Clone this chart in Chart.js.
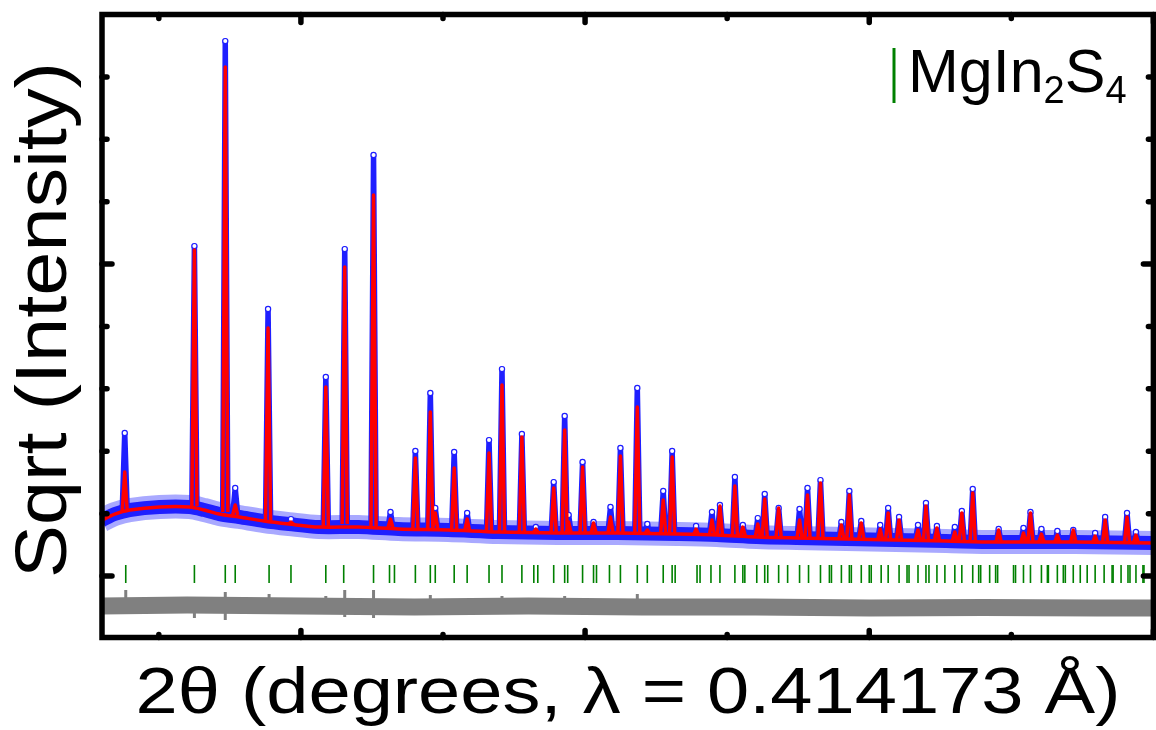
<!DOCTYPE html>
<html><head><meta charset="utf-8">
<script src="https://cdn.jsdelivr.net/npm/chart.js@4.4.0/dist/chart.umd.min.js"></script>
<style>html,body{margin:0;padding:0;background:#fff;overflow:hidden;width:1156px;height:730px}canvas{display:block}</style>
</head><body><canvas id="c" width="1164" height="730" style="width:1164px;height:730px"></canvas>
<script>
// ---------- data (2theta in degrees, sqrt intensity in arbitrary units) ----------
const xTitle = '2θ (degrees, λ = 0.414173 Å)';
const yTitle = 'Sqrt (Intensity)';
const phaseLabel = ['MgIn', '2', 'S', '4']; // normal / subscript alternating

const xMajorTicks = [10, 15, 20, 25];
const xMinorTicks = [7.5, 12.5, 17.5, 22.5];
const yMajorTicks = [0, 50];
const yMinorTicks = [10, 20, 30, 40, 60, 70, 80];

const peakPos = [6.900, 8.126, 8.669, 8.844, 9.422, 9.825, 10.438, 10.771, 11.278, 11.576, 12.014, 12.277, 12.364, 12.697, 12.925, 13.310, 13.538, 13.888, 14.133, 14.448, 14.641, 14.711, 14.956, 15.149, 15.447, 15.622, 15.919, 16.095, 16.375, 16.532, 16.953, 17.233, 17.373, 17.636, 17.776, 18.039, 18.161, 18.406, 18.774, 18.914, 19.142, 19.510, 19.650, 19.860, 20.193, 20.333, 20.525, 20.858, 20.998, 21.191, 21.506, 21.629, 21.821, 22.277, 22.714, 22.837, 23.030, 23.310, 23.590, 23.975, 24.151, 24.536, 24.693];
const calcTop = [16.67, 52.24, 81.57, 11.38, 39.74, 8.65, 30.29, 49.52, 61.06, 9.13, 18.91, 26.28, 10.10, 17.31, 9.13, 19.71, 30.61, 22.28, 7.53, 14.10, 23.40, 8.65, 17.47, 8.49, 9.46, 19.23, 27.08, 7.37, 12.18, 19.07, 7.53, 8.97, 11.22, 14.42, 7.85, 8.33, 12.34, 10.90, 8.97, 12.98, 14.90, 8.17, 12.98, 8.49, 7.53, 10.10, 8.97, 7.37, 11.22, 7.69, 7.05, 10.10, 13.30, 7.37, 6.89, 10.10, 6.73, 6.57, 7.37, 6.41, 8.97, 9.46, 6.57];
const obsTop = [22.92, 52.88, 85.74, 14.10, 42.79, 9.13, 31.89, 52.40, 67.47, 10.26, 20.03, 29.33, 10.90, 19.87, 10.10, 21.79, 33.17, 22.76, 7.85, 15.06, 25.64, 9.78, 18.27, 8.65, 11.06, 20.51, 30.13, 8.33, 13.62, 20.03, 8.01, 10.26, 11.38, 15.87, 8.17, 9.29, 13.14, 10.90, 10.74, 14.10, 15.38, 8.65, 13.62, 8.81, 8.17, 10.90, 9.46, 8.17, 11.70, 8.01, 7.85, 10.42, 13.94, 7.53, 7.69, 10.26, 7.53, 7.21, 7.37, 6.89, 9.46, 10.10, 7.05];
const peakBase = [10.26, 11.22, 10.26, 9.78, 8.81, 8.33, 8.01, 8.33, 8.01, 7.69, 7.53, 7.69, 7.53, 7.37, 7.21, 7.05, 7.05, 7.05, 6.89, 6.89, 6.89, 6.89, 6.89, 6.89, 6.89, 6.89, 6.89, 6.73, 6.73, 6.73, 6.57, 6.57, 6.57, 6.41, 6.41, 6.25, 6.25, 6.25, 6.09, 6.09, 6.09, 5.93, 5.93, 5.93, 5.77, 5.77, 5.77, 5.77, 5.61, 5.61, 5.61, 5.61, 5.61, 5.45, 5.45, 5.45, 5.45, 5.45, 5.45, 5.29, 5.29, 5.29, 5.29];

const bgX = [6.5, 6.725, 6.988, 7.513, 8.039, 8.301, 8.564, 8.914, 9.352, 9.790, 10.315, 11.016, 11.716, 12.592, 13.468, 14.518, 15.569, 16.620, 17.320, 18.021, 18.721, 19.597, 20.473, 21.349, 22.224, 23.625, 25.0];
const bgY = [8.97, 9.94, 10.58, 11.06, 11.06, 10.58, 9.94, 9.46, 8.81, 8.33, 7.85, 7.85, 7.53, 7.37, 7.05, 6.89, 6.89, 6.73, 6.57, 6.25, 6.09, 5.93, 5.77, 5.61, 5.45, 5.45, 5.29];

const diffX = [6.5, 8.0, 10.0, 12.0, 14.0, 16.0, 18.0, 20.0, 22.0, 24.0, 25.0];
const diffY = [-4.81, -4.65, -4.81, -4.97, -4.81, -4.97, -4.97, -5.13, -5.05, -5.13, -5.13];
const diffSpikeX = [6.918, 8.126, 8.669, 9.440, 10.438, 10.771, 11.278, 12.277, 13.538, 14.641, 15.919];
const diffSpikeHigh = [-2.24, -3.85, -2.56, -2.88, -3.21, -2.24, -2.24, -3.04, -3.21, -3.21, -2.88];
const diffSpikeLow = [-5.77, -6.73, -7.05, -5.77, -6.09, -6.57, -6.73, -6.09, -6.09, -5.93, -6.25];

const reflPos = [6.918, 8.126, 8.669, 8.844, 9.440, 9.825, 10.438, 10.753, 11.278, 11.559, 11.646, 12.014, 12.277, 12.364, 12.697, 12.925, 13.310, 13.538, 13.888, 14.098, 14.168, 14.448, 14.641, 14.694, 14.956, 15.149, 15.201, 15.429, 15.622, 15.919, 16.095, 16.375, 16.532, 16.585, 16.970, 17.023, 17.215, 17.373, 17.636, 17.776, 17.811, 18.021, 18.161, 18.214, 18.406, 18.564, 18.774, 18.932, 19.142, 19.299, 19.335, 19.510, 19.650, 19.685, 19.860, 20.000, 20.035, 20.210, 20.333, 20.525, 20.665, 20.700, 20.858, 20.998, 21.051, 21.191, 21.331, 21.506, 21.629, 21.821, 21.926, 21.961, 22.119, 22.224, 22.259, 22.539, 22.574, 22.714, 22.837, 23.030, 23.135, 23.152, 23.310, 23.415, 23.450, 23.590, 23.713, 23.835, 23.975, 24.133, 24.273, 24.291, 24.431, 24.553, 24.588, 24.693, 24.816, 24.834];

// ---------- build library tables ----------
const peakHalfWidth = 0.045;
function peakTable(tops) {
  const out = [];
  peakPos.forEach((p, i) => {
    out.push({x: p - peakHalfWidth, y: peakBase[i]});
    out.push({x: p, y: tops[i], apex: true});
    out.push({x: p + peakHalfWidth, y: peakBase[i]});
    out.push({x: p + peakHalfWidth, y: null});
  });
  return out;
}
const bgData = bgX.map((x, i) => ({x, y: bgY[i]}));
const diffData = diffX.map((x, i) => ({x, y: diffY[i]}));
const spikeData = [];
diffSpikeX.forEach((x, i) => {
  spikeData.push({x, y: diffSpikeHigh[i]}, {x, y: diffSpikeLow[i]}, {x, y: null});
});
const reflRowY = 0.32;
const reflData = reflPos.map(x => ({x, y: reflRowY}));

const BLUE = '#1f1fff', RED = '#ff0000', GREY = '#808080', GREEN = '#008000';

const framePlugin = {
  id: 'frame',
  afterDatasetsDraw(chart) {
    const ctx = chart.ctx, a = chart.chartArea;
    const sx = chart.scales.x, sy = chart.scales.y;
    ctx.save();
    ctx.strokeStyle = '#000';
    ctx.lineWidth = 5.5;
    ctx.lineCap = 'round';
    ctx.beginPath();
    const tick = (x1, y1, x2, y2) => { ctx.moveTo(x1, y1); ctx.lineTo(x2, y2); };
    xMajorTicks.forEach(v => { const p = sx.getPixelForValue(v); tick(p, a.bottom, p, a.bottom - 7); tick(p, a.top, p, a.top + 8); });
    xMinorTicks.forEach(v => { const p = sx.getPixelForValue(v); tick(p, a.bottom, p, a.bottom - 3); tick(p, a.top, p, a.top + 4); });
    yMajorTicks.forEach(v => { const p = sy.getPixelForValue(v); tick(a.left, p, a.left + 10, p); tick(a.right, p, a.right - 10, p); });
    yMinorTicks.forEach(v => { const p = sy.getPixelForValue(v); tick(a.left, p, a.left + 5, p); tick(a.right, p, a.right - 5, p); });
    ctx.stroke();
    ctx.lineCap = 'butt';
    ctx.lineJoin = 'miter';
    ctx.strokeRect(a.left, a.top, a.right - a.left, a.bottom - a.top);
    ctx.restore();
  },
  afterDraw(chart) {
    const ctx = chart.ctx;
    const FONT = '"Liberation Sans", Arial, Helvetica, sans-serif';
    ctx.save();
    ctx.fillStyle = '#000';
    ctx.textBaseline = 'alphabetic';
    // x title
    ctx.font = '64px ' + FONT;
    let w = ctx.measureText(xTitle).width;
    ctx.save();
    ctx.translate(628, 713);
    ctx.scale(985 / w, 1);
    ctx.textAlign = 'center';
    ctx.fillText(xTitle, 0, 0);
    ctx.restore();
    // y title
    ctx.font = '72px ' + FONT;
    w = ctx.measureText(yTitle).width;
    ctx.save();
    ctx.translate(66, 320);
    ctx.rotate(-Math.PI / 2);
    ctx.scale(516 / w, 1);
    ctx.textAlign = 'center';
    ctx.fillText(yTitle, 0, 0);
    ctx.restore();
    // phase legend
    ctx.strokeStyle = GREEN;
    ctx.lineWidth = 3;
    ctx.beginPath(); ctx.moveTo(894, 48); ctx.lineTo(894, 103); ctx.stroke();
    let x = 908;
    ctx.textAlign = 'left';
    phaseLabel.forEach((t, i) => {
      const sub = i % 2 === 1;
      ctx.font = (sub ? '38px ' : '61px ') + FONT;
      ctx.fillText(t, x, sub ? 103 : 92);
      x += ctx.measureText(t).width;
    });
    ctx.restore();
  }
};

new Chart(document.getElementById('c'), {
  type: 'line',
  data: {
    datasets: [
      { label: 'Calc peaks', data: peakTable(calcTop), borderColor: RED, borderWidth: 3.5, pointRadius: 0, spanGaps: false, borderJoinStyle: 'round', order: 0 },
      { label: 'Calc', data: bgData, borderColor: RED, borderWidth: 3.5, pointRadius: 0, tension: 0.3, order: 1 },
      { label: 'Obs peaks', data: peakTable(obsTop), borderColor: BLUE, borderWidth: 5.5, spanGaps: false, borderJoinStyle: 'round',
        pointRadius: c => (c.raw && c.raw.apex ? 2.6 : 0), pointBackgroundColor: '#fff', pointBorderColor: BLUE, pointBorderWidth: 1.2, order: 2 },
      { label: 'Obs', data: bgData, borderColor: BLUE, borderWidth: 14, pointRadius: 0, tension: 0.3, order: 3 },
      { label: 'Obs soft', data: bgData, borderColor: 'rgba(40,40,255,0.4)', borderWidth: 24, pointRadius: 0, tension: 0.3, order: 4 },
      { label: 'MgIn2S4', data: reflData, showLine: false, pointStyle: 'line', rotation: 90, pointRadius: 9, pointBorderWidth: 1.6, pointBorderColor: GREEN, order: 5 },
      { label: 'Diff spikes', data: spikeData, borderColor: GREY, borderWidth: 3, pointRadius: 0, spanGaps: false, order: 6 },
      { label: 'Diff', data: diffData, borderColor: GREY, borderWidth: 17, pointRadius: 0, order: 7 }
    ]
  },
  options: {
    responsive: false,
    animation: false,
    layout: { padding: { left: 102, top: 14.5, right: 5.6, bottom: 92.5 } },
    plugins: { legend: { display: false }, tooltip: { enabled: false } },
    scales: {
      x: { type: 'linear', min: 6.5, max: 25.0, display: false },
      y: { type: 'linear', min: -9.85, max: 90, display: false }
    }
  },
  plugins: [framePlugin]
});
</script></body></html>
